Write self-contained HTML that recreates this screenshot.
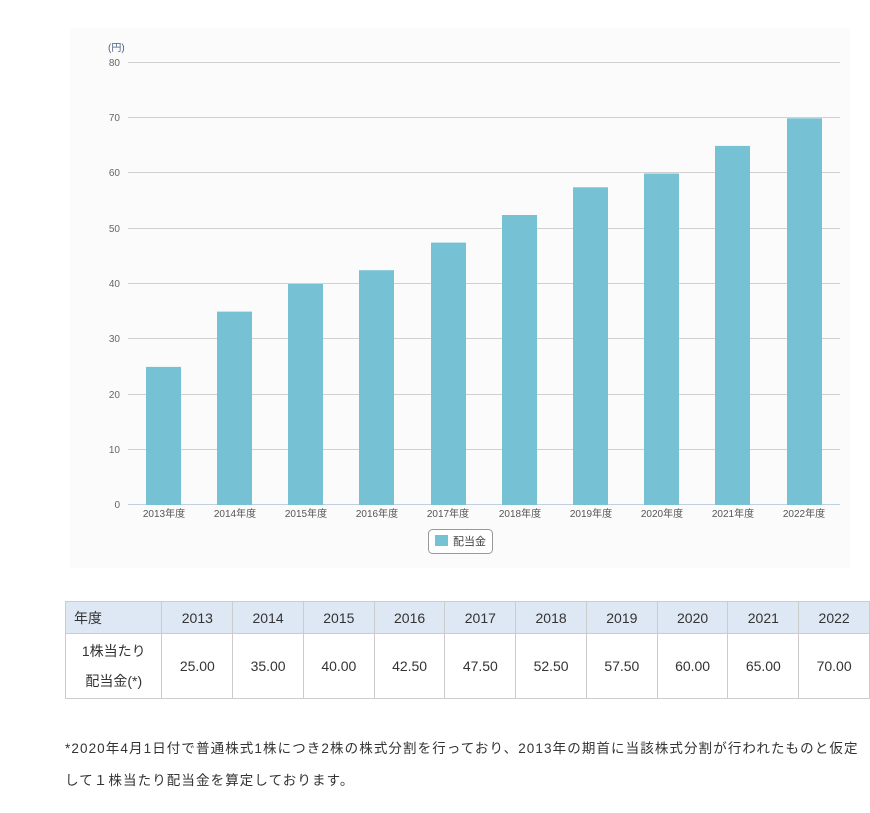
<!DOCTYPE html>
<html><head><meta charset="utf-8"><style>
body{margin:0;width:870px;height:813px;background:#fff;font-family:"Liberation Sans","Noto Sans CJK JP",sans-serif;position:relative;overflow:hidden}
.chart{position:absolute;left:70px;top:28px;width:780px;height:540px;background:#fbfbfb}
table{position:absolute;left:65px;top:601px;border-collapse:collapse;font-size:14px;color:#333}
td,th{border:1px solid #ccc;text-align:center;font-weight:normal;padding:0}
th{background:#dde8f4;height:31px}
td{height:64px}
.note{position:absolute;left:65px;top:733px;font-size:13.5px;color:#333;line-height:32px;letter-spacing:1.1px;white-space:nowrap}
</style></head><body>
<div class="chart"></div>
<svg style="position:absolute;left:0;top:0" width="870" height="600" font-family="Liberation Sans, Noto Sans CJK JP, sans-serif">
<g stroke="#d0d0d0" stroke-width="1">
<line x1="128" x2="840" y1="62.5" y2="62.5"/><line x1="128" x2="840" y1="117.5" y2="117.5"/>
<line x1="128" x2="840" y1="172.5" y2="172.5"/><line x1="128" x2="840" y1="228.5" y2="228.5"/>
<line x1="128" x2="840" y1="283.5" y2="283.5"/><line x1="128" x2="840" y1="338.5" y2="338.5"/>
<line x1="128" x2="840" y1="394.5" y2="394.5"/><line x1="128" x2="840" y1="449.5" y2="449.5"/>
</g>
<line x1="128" x2="840" y1="504.5" y2="504.5" stroke="#c0d0e0"/>
<g font-size="10" fill="#666" text-anchor="end">
<text x="120" y="66">80</text><text x="120" y="121">70</text><text x="120" y="176">60</text><text x="120" y="232">50</text><text x="120" y="287">40</text><text x="120" y="342">30</text><text x="120" y="398">20</text><text x="120" y="453">10</text><text x="120" y="508">0</text>
</g>
<text x="108" y="51" font-size="10" fill="#4a5f80">(円)</text>
<g fill="#77c1d5">
<rect x="146" y="366.9" width="35" height="138.1"/>
<rect x="217" y="311.6" width="35" height="193.4"/>
<rect x="288" y="284" width="35" height="221"/>
<rect x="359" y="270.2" width="35" height="234.8"/>
<rect x="431" y="242.6" width="35" height="262.4"/>
<rect x="502" y="215" width="35" height="290"/>
<rect x="573" y="187.3" width="35" height="317.7"/>
<rect x="644" y="173.5" width="35" height="331.5"/>
<rect x="715" y="145.9" width="35" height="359.1"/>
<rect x="787" y="118.3" width="35" height="386.7"/>
</g>
<g font-size="10" fill="#555" text-anchor="middle">
<text x="164" y="517">2013年度</text><text x="235" y="517">2014年度</text><text x="306" y="517">2015年度</text><text x="377" y="517">2016年度</text><text x="448" y="517">2017年度</text><text x="520" y="517">2018年度</text><text x="591" y="517">2019年度</text><text x="662" y="517">2020年度</text><text x="733" y="517">2021年度</text><text x="804" y="517">2022年度</text>
</g>
<rect x="428.5" y="529.5" width="64" height="24" rx="4" fill="#fff" stroke="#999"/>
<rect x="435" y="535" width="13" height="11" fill="#77c1d5"/>
<text x="453" y="545" font-size="11" fill="#444">配当金</text>
</svg>
<table>
<tr><th style="text-align:left;padding-left:8px;width:88px">年度</th><th style="width:70px">2013</th><th style="width:70px">2014</th><th style="width:70px">2015</th><th style="width:70px">2016</th><th style="width:70px">2017</th><th style="width:70px">2018</th><th style="width:70px">2019</th><th style="width:70px">2020</th><th style="width:70px">2021</th><th style="width:70px">2022</th></tr>
<tr><td style="line-height:30px">1株当たり<br>配当金(*)</td><td>25.00</td><td>35.00</td><td>40.00</td><td>42.50</td><td>47.50</td><td>52.50</td><td>57.50</td><td>60.00</td><td>65.00</td><td>70.00</td></tr>
</table>
<div class="note">*2020年4月1日付で普通株式1株につき2株の株式分割を行っており、2013年の期首に当該株式分割が行われたものと仮定<br>して１株当たり配当金を算定しております。</div>
</body></html>
